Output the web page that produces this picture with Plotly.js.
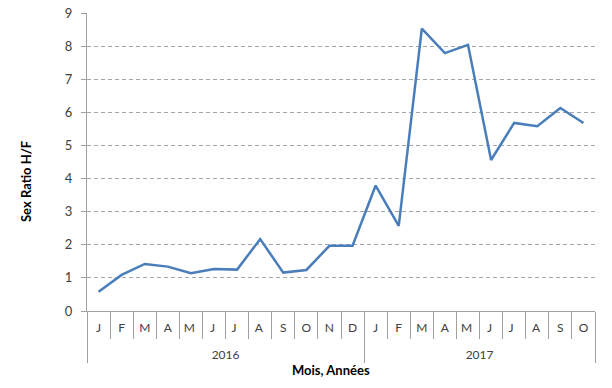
<!DOCTYPE html>
<html><head><meta charset="utf-8">
<script src="https://cdn.plot.ly/plotly-3.0.1.min.js"></script>
<style>body{margin:0;background:#fff}#c{width:612px;height:388px}</style>
</head><body><div id="c"></div>
<script>
var years = ["2016","2016","2016","2016","2016","2016","2016","2016","2016","2016","2016","2016",
             "2017","2017","2017","2017","2017","2017","2017","2017","2017","2017"];
var months = ["J","F","M","A","M ","J ","J  ","A ","S","O","N","D",
              "J","F","M","A","M ","J ","J  ","A ","S","O"];
var sexRatio = [0.58,1.09,1.42,1.34,1.14,1.27,1.25,2.17,1.16,1.24,1.97,1.97,
                3.79,2.57,8.53,7.79,8.04,4.56,5.68,5.58,6.13,5.68];

var yearLabels = years.map(function (y) { return "<br>" + y; });

var trace = {
  x: [yearLabels, months],
  y: sexRatio,
  type: "scatter",
  mode: "lines",
  line: {color: "#4a7ebb", width: 2.5},
  hoverinfo: "skip"
};
var layout = {
  width: 612, height: 388,
  margin: {l: 87, r: 17, t: 13, b: 77},
  paper_bgcolor: "#fff", plot_bgcolor: "#fff",
  showlegend: false,
  font: {family: "Lato, 'Open Sans', sans-serif", size: 12, color: "#404040"},
  xaxis: {
    type: "multicategory",
    range: [-0.5, 21.5],
    tickangle: 0,
    showline: true, linecolor: "#a0a0a0", linewidth: 1,
    ticks: "outside", tickson: "boundaries", ticklen: 27, tickcolor: "#a0a0a0",
    ticklabelstandoff: 6,
    showgrid: false, zeroline: false,
    showdividers: true, dividercolor: "#a0a0a0", dividerwidth: 1,
    tickfont: {size: 12, color: "#404040"}
  },
  yaxis: {
    range: [0, 9], dtick: 1, tick0: 0,
    showline: true, linecolor: "#a0a0a0", linewidth: 1,
    ticks: "outside", ticklen: 5, tickcolor: "#a0a0a0",
    ticklabelstandoff: 6,
    showgrid: true, gridcolor: "#a6a6a6", griddash: "4px,3px", gridwidth: 1,
    zeroline: false,
    tickfont: {size: 13, color: "#404040"}
  },
  annotations: [{
    text: "Mois, Années", xref: "paper", yref: "paper",
    x: (331 - 87) / 508, y: -(370 - 311) / 298,
    xanchor: "center", yanchor: "middle", showarrow: false,
    font: {size: 13, color: "#000", weight: "bold"}
  }, {
    text: "Sex Ratio H/F", xref: "paper", yref: "paper",
    x: (26 - 87) / 508, y: (311 - 182) / 298,
    xanchor: "center", yanchor: "middle", showarrow: false, textangle: -90,
    font: {size: 13, color: "#000", weight: "bold"}
  }]
};
Plotly.newPlot("c", [trace], layout, {displayModeBar: false, staticPlot: true});
</script></body></html>
